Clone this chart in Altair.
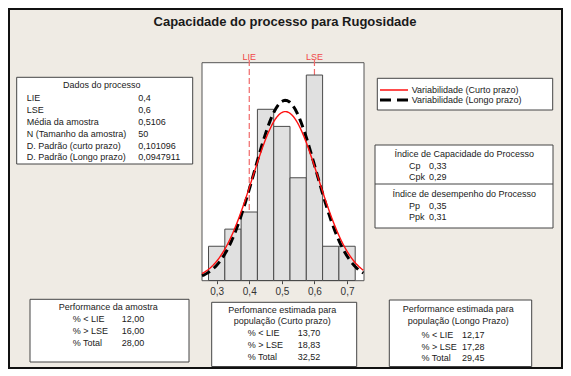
import altair as alt
import pandas as pd

# ---------------- data ----------------
title = "Capacidade do processo para Rugosidade"
bin_left = [0.275, 0.325, 0.375, 0.425, 0.475, 0.525, 0.575, 0.625, 0.675]
bin_width = 0.05
counts = [2, 3, 4, 10, 9, 6, 12, 2, 2]
spec_names = ["LIE", "LSE"]
spec_values = [0.4, 0.6]
n_sample = 50
mean = 0.5106
sd_short = 0.101096
sd_long = 0.0947911
x_ticks = [0.3, 0.4, 0.5, 0.6, 0.7]

proc_header = "Dados do processo"
proc_labels = ["LIE", "LSE", "Média da amostra", "N (Tamanho da amostra)",
               "D. Padrão (curto prazo)", "D. Padrão (Longo prazo)"]
proc_values = ["0,4", "0,6", "0,5106", "50", "0,101096", "0,0947911"]

legend_labels = ["Variabilidade (Curto prazo)", "Variabilidade (Longo prazo)"]

cap_header = "Índice de Capacidade do Processo"
cap_labels = ["Cp", "Cpk"]
cap_values = ["0,33", "0,29"]
perf_header = "Índice de desempenho do Processo"
perf_labels = ["Pp", "Ppk"]
perf_values = ["0,35", "0,31"]

pct_labels = ["% < LIE", "% > LSE", "% Total"]
sample_header = ["Performance da amostra"]
sample_values = ["12,00", "16,00", "28,00"]
short_header = ["Perfomance estimada para", "população (Curto prazo)"]
short_values = ["13,70", "18,83", "32,52"]
long_header = ["Performance estimada para", "população (Longo Prazo)"]
long_values = ["12,17", "17,28", "29,45"]

# ---------------- style ----------------
FONT = "Liberation Sans"
TXT = "#1a1a1a"
BG = "#EFEBE4"
W, H = 555, 361

X0, X1 = 0.255, 0.752
Y1 = 12.75
xs = alt.Scale(domain=[X0, X1], range=[194, 356], nice=False, zero=False)
ys = alt.Scale(domain=[0, Y1], range=[272.5, 54.2], nice=False, zero=False)
xaxis = alt.Axis(values=x_ticks,
                 labelExpr="replace(format(datum.value, '.1f'), '.', ',')",
                 tickSize=3, domain=False, grid=False, offset=-88.3,
                 labelFontSize=10, labelColor="#333333", labelFont=FONT,
                 tickColor="#444444", labelPadding=3, title=None, labelFlush=False)


def X(field):
    return alt.X(field, scale=xs, axis=xaxis)


def Y(field):
    return alt.Y(field, scale=ys, axis=None)


def one():
    return alt.Data(values=[{"k": 0}])


def txt(s, x, y, align="left", size=9, color=TXT, weight="normal"):
    return alt.Chart(one()).mark_text(
        text=s, align=align, baseline="middle", font=FONT, fontSize=size,
        color=color, fontWeight=weight
    ).encode(x=alt.value(x), y=alt.value(y))


def box(x, y, x2, y2, stroke="#444444", fill="white", sw=1, fo=1):
    return alt.Chart(one()).mark_rect(
        fill=fill, fillOpacity=fo, stroke=stroke, strokeWidth=sw
    ).encode(x=alt.value(x), x2=alt.value(x2), y=alt.value(y), y2=alt.value(y2))


def hline(x, x2, y, color="#444444", sw=1, dash=None):
    kw = dict(color=color, strokeWidth=sw)
    if dash:
        kw["strokeDash"] = dash
    return alt.Chart(one()).mark_rule(**kw).encode(
        x=alt.value(x), x2=alt.value(x2), y=alt.value(y))


layers = []

# outer frame
layers.append(box(1, 1, W - 1, H - 1, stroke="#111111", fill=BG, sw=2, fo=0))

# title
layers.append(txt(title, 277, 13.5, align="center", size=13, weight="bold"))

# histogram plot area
layers.append(box(194, 54.7, 356, 272.7, stroke="#555555"))

spec_df = pd.DataFrame({"name": spec_names, "v": spec_values})
layers.append(alt.Chart(spec_df).mark_rule(color="#F06A6A", strokeDash=[6, 3], strokeWidth=1.2)
              .encode(x=X("v:Q"), y=alt.value(52), y2=alt.value(272.5)))
layers.append(alt.Chart(spec_df).mark_text(color="#F04848", fontSize=9, font=FONT, baseline="middle")
              .encode(x=X("v:Q"), y=alt.value(48.5), text="name:N"))

hist_df = pd.DataFrame({"lo": bin_left, "count": counts})
layers.append(alt.Chart(hist_df).transform_calculate(hi=f"datum.lo + {bin_width}")
              .mark_rect(fill="#E0E0E0", stroke="#4A4A4A", strokeWidth=1)
              .encode(x=X("lo:Q"), x2="hi:Q", y=Y("count:Q"), y2=alt.Y2(datum=0)))

curve = alt.Chart(alt.sequence(X0, X1 + 0.0001, 0.0025, as_="x")).transform_calculate(
    short=f"{n_sample * bin_width}*densityNormal(datum.x, {mean}, {sd_short})",
    long=f"{n_sample * bin_width}*densityNormal(datum.x, {mean}, {sd_long})",
)
layers.append(curve.mark_line(color="black", strokeWidth=3, strokeDash=[9, 5])
              .encode(x=X("x:Q"), y=Y("long:Q")))
layers.append(curve.mark_line(color="#FF1010", strokeWidth=1.4)
              .encode(x=X("x:Q"), y=Y("short:Q")))

# process data box
layers.append(box(8.7, 69.3, 184.7, 156))
layers.append(txt(proc_header, 93.7, 77, align="center"))
for i, (lab, val) in enumerate(zip(proc_labels, proc_values)):
    yy = 90.3 + i * 11.8
    layers.append(txt(lab, 18.7, yy))
    layers.append(txt(val, 130.3, yy))

# legend box
layers.append(box(369.3, 70.3, 544.7, 102))
layers.append(hline(372, 400, 82, color="#FF1010", sw=1.5))
layers.append(hline(372, 401, 92, color="black", sw=3, dash=[11, 6]))
layers.append(txt(legend_labels[0], 403.7, 82))
layers.append(txt(legend_labels[1], 403.7, 92))

# index box
layers.append(box(367, 137, 545, 220))
layers.append(hline(367, 545, 176))
layers.append(txt(cap_header, 456.3, 146, align="center"))
for i, (lab, val) in enumerate(zip(cap_labels, cap_values)):
    yy = 157.7 + i * 11
    layers.append(txt(lab, 401, yy))
    layers.append(txt(val, 421, yy))
layers.append(txt(perf_header, 456.3, 186.3, align="center"))
for i, (lab, val) in enumerate(zip(perf_labels, perf_values)):
    yy = 197.7 + i * 11.3
    layers.append(txt(lab, 401, yy))
    layers.append(txt(val, 421, yy))

# bottom boxes
def perf_box(x, y, x2, y2, header, values, cx, hy, ry, lx, vx):
    out = [box(x, y, x2, y2)]
    for j, h in enumerate(header):
        out.append(txt(h, cx, hy + j * 11.3, align="center"))
    for j, (lab, val) in enumerate(zip(pct_labels, values)):
        out.append(txt(lab, lx, ry + j * 11.7))
        out.append(txt(val, vx, ry + j * 11.7))
    return out

layers += perf_box(22, 291.3, 181, 354, sample_header, sample_values, 100.3, 298.7, 311.3, 64.7, 113.7)
layers += perf_box(203.7, 294.3, 348.7, 358.5, short_header, short_values, 274.3, 302, 325.3, 239.7, 289.7)
layers += perf_box(381.3, 292, 523.7, 358.5, long_header, long_values, 450.3, 301.3, 327, 413.5, 454)

chart = alt.layer(*layers).properties(
    width=W, height=H, padding=0,
    autosize=alt.AutoSizeParams(type="none"),
    background=BG,
).configure_view(stroke="transparent")

chart.save("out.html", embed_options={"renderer": "svg", "actions": False})
